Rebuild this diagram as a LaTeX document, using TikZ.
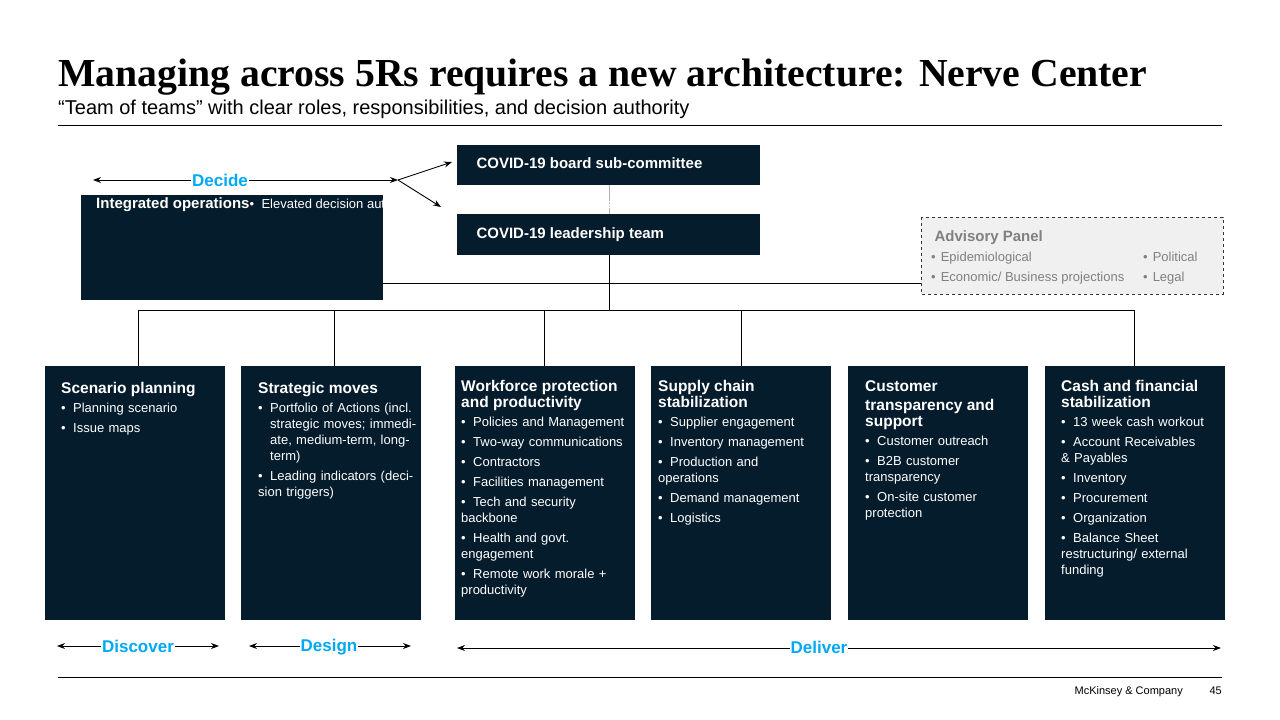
\documentclass[tikz,border=0pt]{standalone}
\usepackage{fontspec}
\setmainfont{Liberation Sans}
\newfontfamily\ttl{Liberation Serif}
\usetikzlibrary{arrows.meta}
\definecolor{navy}{HTML}{051C2C}
\definecolor{cy}{HTML}{00A9F4}
\definecolor{gr}{HTML}{808080}
\newcommand{\bi}[1]{\par\hangindent=12pt\hangafter=1\noindent\makebox[12pt][l]{\textbullet}#1}
\tikzset{
 box/.style={fill=navy,draw=none},
 btxt/.style={anchor=north west,text=white,align=left,font=\fontsize{13}{16}\selectfont,inner sep=0pt},
 conn/.style={draw=black,line width=0.9pt},
 arr/.style={line width=0.9pt,-{Stealth[length=8pt,width=6pt]}},
 darr/.style={line width=0.9pt,{Stealth[length=8pt,width=6pt]}-{Stealth[length=8pt,width=6pt]}},
 lbl/.style={text=cy,font=\fontsize{17}{20}\selectfont\bfseries,fill=white,inner sep=1pt},
 hd/.style={font=\fontsize{15.5}{19}\selectfont\bfseries}
}
\begin{document}
\begin{tikzpicture}[x=1pt,y=-1pt]
\useasboundingbox (0,0) rectangle (1280,720);
% title
\node[anchor=base west,inner sep=0pt] (t) at (58,86) {\resizebox{1089pt}{!}{\ttl\bfseries\fontsize{32}{36}\selectfont Managing across 5Rs requires a new architecture: Nerve Center}};
\node[anchor=base west,inner sep=0pt,font=\fontsize{20}{24}\selectfont] (st) at (58,114) {“Team of teams” with clear roles, responsibilities, and decision authority};
\draw[line width=0.8pt] (58,125) -- (1222,125);
% top boxes
\path[box] (457,145) rectangle (760,185); \coordinate (bd) at (609,185);
\node[anchor=base west,text=white,hd,font=\fontsize{15}{18}\selectfont\bfseries] (board) at (473,168) {COVID-19 board sub-committee};
\path[box] (457,214) rectangle (760,255); \coordinate (lt) at (609,214); \coordinate (lb) at (609,255);
\node[anchor=base west,text=white,font=\fontsize{15}{18}\selectfont\bfseries] (lead) at (473,238) {COVID-19 leadership team};
\draw[gray!60,line width=0.8pt] (bd) -- (lt);
% integrated ops
\path[box] (81,195) rectangle (383,300); \coordinate (ior) at (383,283);
\node[btxt] (io) at (96,197) {{\fontsize{15}{19}\selectfont\bfseries Integrated operations}\vspace{3pt}\bi{Elevated decision authority}\par\vspace{4pt}\bi{Operating cadence}\par\vspace{4pt}\bi{Risk maps}\par\vspace{4pt}\bi{Situation Reports}};
% advisory
\draw[dashed,fill=gray!12,draw=black!80,line width=0.7pt] (921,217) rectangle (1223,294);
\coordinate (adl) at (921,283);
\node[anchor=base west,text=gr,font=\fontsize{15}{18}\selectfont\bfseries] (adv) at (931,241) {Advisory Panel};
\node[anchor=base west,text=gr,font=\fontsize{13}{16}\selectfont,inner sep=0pt] (a1) at (931,261) {\textbullet\hspace{5pt}Epidemiological};
\node[anchor=base west,text=gr,font=\fontsize{13}{16}\selectfont,inner sep=0pt] (a2) at (931,281) {\textbullet\hspace{5pt}Economic/ Business projections};
\node[anchor=base west,text=gr,font=\fontsize{13}{16}\selectfont,inner sep=0pt] (a3) at (1143,261) {\textbullet\hspace{5pt}Political};
\node[anchor=base west,text=gr,font=\fontsize{13}{16}\selectfont,inner sep=0pt] (a4) at (1143,281) {\textbullet\hspace{5pt}Legal};
\draw[conn] (ior) -- (adl);
% decide
\coordinate (dl) at (93,180); \coordinate (dr) at (398,180);
\coordinate (d1) at (452,162); \coordinate (d2) at (441,207);
\draw[darr] (dl) -- (dr);
\node[lbl] (dec) at (220,180) {Decide};
\draw[arr] (dr) -- (d1);
\draw[arr] (dr) -- (d2);
% tree
\coordinate (h) at (609,310);
\draw[conn] (lb) -- (h);
\draw[conn] (138,366) -- (138,310) -- (1134,310) -- (1134,366);
\draw[conn] (334,310) -- (334,366);
\draw[conn] (544,310) -- (544,366);
\draw[conn] (741,310) -- (741,366);
% bottom boxes
\foreach \x in {45,241,455,651,848,1045} {\path[box] (\x,366) rectangle ++(180,254);}
\node[btxt,text width=160pt] (b1) at (61,382) {{\fontsize{15.5}{19}\selectfont\bfseries Scenario planning}\vspace{3pt}\bi{Planning scenario}\par\vspace{4pt}\bi{Issue maps}};
\node[btxt,text width=160pt] (b2) at (258,382) {{\fontsize{15.5}{19}\selectfont\bfseries Strategic moves}\vspace{3pt}\bi{Portfolio of Actions (incl. strategic moves; immediate, medium-term, long-term)}\par\vspace{4pt}\bi{Leading indicators (decision triggers)}};
\node[btxt,text width=170pt] (b3) at (461,380) {{\fontsize{15.5}{19}\selectfont\bfseries Workforce protection\\and productivity}\vspace{3pt}\bi{Policies and Management}\par\vspace{4pt}\bi{Two-way communications}\par\vspace{4pt}\bi{Contractors}\par\vspace{4pt}\bi{Facilities management}\par\vspace{4pt}\bi{Tech and security\\backbone}\par\vspace{4pt}\bi{Health and govt.\\engagement}\par\vspace{4pt}\bi{Remote work morale +\\productivity}};
\node[btxt,text width=165pt] (b4) at (658,380) {{\fontsize{15.5}{19}\selectfont\bfseries Supply chain\\stabilization}\vspace{3pt}\bi{Supplier engagement}\par\vspace{4pt}\bi{Inventory management}\par\vspace{4pt}\bi{Production and\\operations}\par\vspace{4pt}\bi{Demand management}\par\vspace{4pt}\bi{Logistics}};
\node[btxt,text width=160pt] (b5) at (865,380) {{\fontsize{15.5}{19}\selectfont\bfseries Customer\\transparency and\\support}\vspace{3pt}\bi{Customer outreach}\par\vspace{4pt}\bi{B2B customer\\transparency}\par\vspace{4pt}\bi{On-site customer\\protection}};
\node[btxt,text width=160pt] (b6) at (1061,380) {{\fontsize{15.5}{19}\selectfont\bfseries Cash and financial\\stabilization}\vspace{3pt}\bi{13 week cash workout}\par\vspace{4pt}\bi{Account Receivables\\\& Payables}\par\vspace{4pt}\bi{Inventory}\par\vspace{4pt}\bi{Procurement}\par\vspace{4pt}\bi{Organization}\par\vspace{4pt}\bi{Balance Sheet\\restructuring/ external\\funding}};
% bottom arrows
\coordinate (p1) at (57,646); \coordinate (p2) at (219,646);
\coordinate (q1) at (249,646); \coordinate (q2) at (411,646);
\coordinate (r1) at (457,648); \coordinate (r2) at (1221,648);
\draw[darr] (p1) -- (p2); \node[lbl] (disc) at (138,646) {Discover};
\draw[darr] (q1) -- (q2); \node[lbl] (des) at (329,647) {Design};
\draw[darr] (r1) -- (r2); \node[lbl] (del) at (819,647) {Deliver};
\draw[line width=0.8pt] (58,677) -- (1222,677);
\node[anchor=base east,font=\fontsize{11}{13}\selectfont,inner sep=0pt] (mck) at (1183,694) {McKinsey \& Company};
\node[anchor=base east,font=\fontsize{11}{13}\selectfont,inner sep=0pt] (pg) at (1222,694) {45};
\end{tikzpicture}
\end{document}
